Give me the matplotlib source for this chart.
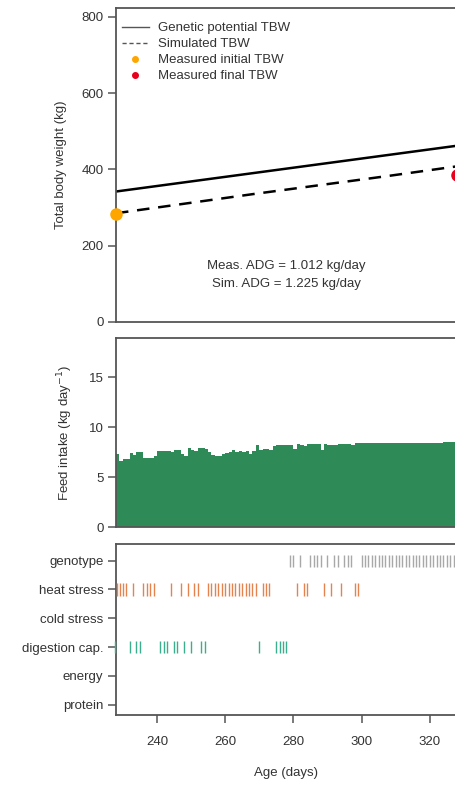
import matplotlib
matplotlib.use("Agg")
import matplotlib.pyplot as plt
from matplotlib.lines import Line2D

plt.rcParams['font.family'] = ['Liberation Sans', 'DejaVu Sans']
plt.rcParams['font.size'] = 9.5
plt.rcParams['text.color'] = '#333333'
plt.rcParams['axes.labelcolor'] = '#333333'
plt.rcParams['xtick.color'] = '#555555'
plt.rcParams['ytick.color'] = '#555555'
plt.rcParams['xtick.labelcolor'] = '#333333'
plt.rcParams['ytick.labelcolor'] = '#333333'

# --- body weight panel ---
tbw_days = [228, 248, 268, 288, 308, 328]
genetic_tbw = [342, 366, 390, 414, 438, 462]
simulated_tbw = [285, 310, 335, 359, 383, 408]
initial_day, initial_tbw = 228, 283
final_day, final_tbw = 328, 384
meas_adg = 1.012
sim_adg = 1.225

# --- feed intake panel (kg/day), one value per day from day 228 ---
feed_start = 228
feed_intake = [7.33, 6.57, 6.80, 6.85, 7.40, 7.20, 7.47, 7.47, 6.90, 6.90,
               6.95, 7.07, 7.60, 7.60, 7.60, 7.60, 7.55, 7.67, 7.70, 7.30,
               7.10, 7.90, 7.75, 7.60, 7.90, 7.90, 7.85, 7.55, 7.20, 7.15,
               7.15, 7.30, 7.40, 7.50, 7.75, 7.55, 7.65, 7.55, 7.60, 7.30,
               7.60, 8.20, 7.75, 7.85, 7.80, 7.70, 8.15, 8.20, 8.20, 8.20,
               8.20, 8.20, 7.80, 8.30, 8.20, 8.10, 8.30, 8.30, 8.30, 8.30,
               7.70, 8.30, 8.20, 8.25, 8.25, 8.30, 8.35, 8.35, 8.30, 8.25,
               8.40, 8.40, 8.41, 8.41, 8.41, 8.42, 8.42, 8.42, 8.42, 8.43,
               8.43, 8.43, 8.43, 8.43, 8.44, 8.44, 8.44, 8.44, 8.44, 8.44,
               8.45, 8.45, 8.45, 8.45, 8.45, 8.45, 8.46, 8.46, 8.46, 8.46]
feed_days = [feed_start + i for i in range(len(feed_intake))]

# --- limiting factor panel ---
factors = ["genotype", "heat stress", "cold stress", "digestion cap.", "energy", "protein"]
genotype_days = [279, 280, 282, 285, 286, 287, 288, 290, 292, 293, 295, 296, 297,
                 300, 301, 302, 303, 304, 305, 306, 307, 308, 309, 310, 311, 312,
                 313, 314, 315, 316, 317, 318, 319, 320, 321, 322, 323, 324, 325,
                 326, 327]
heat_days = [228.3, 229.2, 230, 231, 233, 236, 237, 238, 239, 244, 247, 249, 251, 252,
             255, 256, 257, 258, 259, 260, 261, 262, 263, 264, 265, 266, 267, 268, 269,
             271, 272, 273, 281, 283, 284, 289, 291, 294, 298, 299]
cold_days = []
digestion_days = [227.8, 232, 234, 235, 241, 242, 243, 245, 246, 248, 250, 253, 254,
                  270, 275, 276, 277, 278]
energy_days = []
protein_days = []
factor_days = [genotype_days, heat_days, cold_days, digestion_days, energy_days, protein_days]
factor_colors = ['#a8a8a8', '#e5834f', '#cccccc', '#3aae8e', '#cccccc', '#cccccc']

W, H = 455, 787
fig = plt.figure(figsize=(W / 100, H / 100), dpi=100)

left = 116 / W
width = (457 - 116) / W
spine_col = '#555555'


def panel(top, bottom):
    ax = fig.add_axes([left, (H - bottom) / H, width, (bottom - top) / H])
    for s in ax.spines.values():
        s.set_color(spine_col)
        s.set_linewidth(1.3)
    ax.tick_params(direction='out', length=6, width=1.1, pad=3)
    ax.set_xlim(228, 328)
    return ax


# panel 1: total body weight
ax1 = panel(8, 322)
ax1.plot(tbw_days, genetic_tbw, color='black', lw=1.8)
ax1.plot(tbw_days, simulated_tbw, color='black', lw=1.8, dashes=(5, 3.5))
ax1.plot([initial_day], [initial_tbw], 'o', color='#ffa500', ms=8, clip_on=False, zorder=5)
ax1.plot([final_day], [final_tbw], 'o', color='#e8001c', ms=8, clip_on=False, zorder=5)
ax1.set_ylim(0, 823)
ax1.set_yticks([0, 200, 400, 600, 800])
ax1.tick_params(axis='x', bottom=False, labelbottom=False)
ax1.set_ylabel("Total body weight (kg)", labelpad=10)
ax1.text(0.50, 0.178, "Meas. ADG = %.3f kg/day" % meas_adg, transform=ax1.transAxes,
         ha='center', va='center')
ax1.text(0.50, 0.120, "Sim. ADG = %.3f kg/day" % sim_adg, transform=ax1.transAxes,
         ha='center', va='center')
handles = [Line2D([], [], color='#555555', lw=1),
           Line2D([], [], color='#555555', lw=1, dashes=(3, 2)),
           Line2D([], [], ls='none', marker='o', color='#ffa500', ms=4),
           Line2D([], [], ls='none', marker='o', color='#e8001c', ms=4)]
labels = ["Genetic potential TBW", "Simulated TBW", "Measured initial TBW", "Measured final TBW"]
ax1.legend(handles, labels, loc='upper left', bbox_to_anchor=(-0.005, 0.98), frameon=False,
           handlelength=2.0, handletextpad=0.7, labelspacing=0.28, borderaxespad=0.2)

# panel 2: feed intake
ax2 = panel(338, 527)
ax2.bar(feed_days, feed_intake, width=1.0, align='edge', color='#2e8b57', edgecolor='none')
ax2.set_ylim(0, 18.9)
ax2.set_yticks([0, 5, 10, 15])
ax2.tick_params(axis='x', bottom=False, labelbottom=False)
ax2.set_ylabel("Feed intake (kg day$^{-1}$)", labelpad=10)

# panel 3: limiting factors
ax3 = panel(544, 715)
n = len(factors)
for i, (days, col) in enumerate(zip(factor_days, factor_colors)):
    yv = n - i
    if days:
        ax3.vlines(days, yv - 0.21, yv + 0.21, color=col, lw=1.0, clip_on=False, zorder=3)
ax3.set_ylim(0.64, 6.58)
ax3.set_yticks([n - i for i in range(n)])
ax3.set_yticklabels(factors)
ax3.set_xticks([240, 260, 280, 300, 320])
ax3.tick_params(axis='x', pad=9)
ax3.set_xlabel("Age (days)", labelpad=14)

fig.savefig("out.png", dpi=100)
